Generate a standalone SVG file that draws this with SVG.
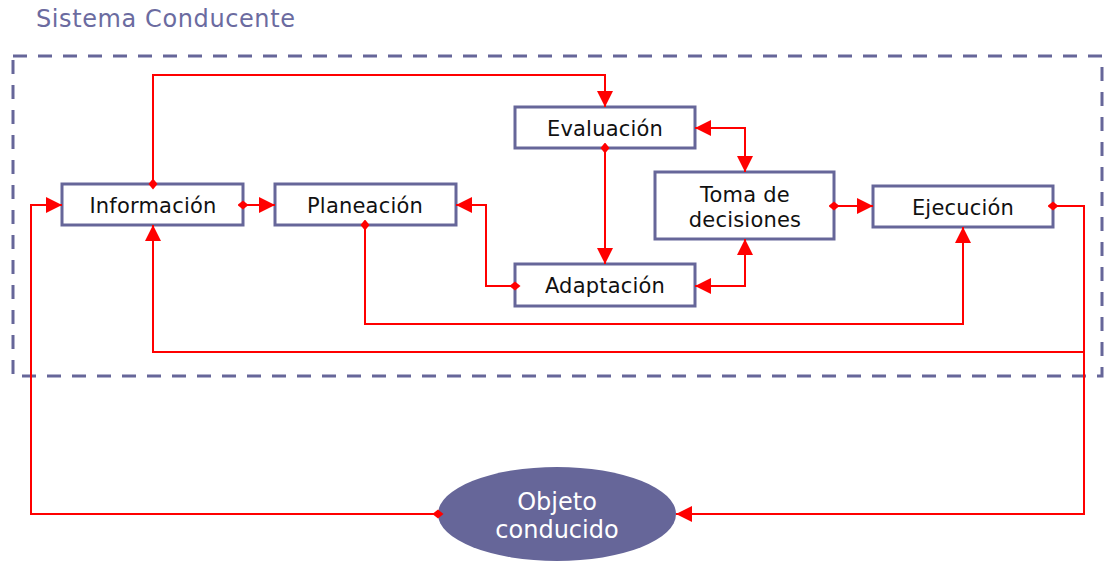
<svg xmlns="http://www.w3.org/2000/svg" width="1107" height="561" viewBox="0 0 1107 561">
<style>
.box{fill:#fff;stroke:#666699;stroke-width:3}
.lbl{font-family:"DejaVu Sans",Verdana,sans-serif;font-size:21px;fill:#111;text-anchor:middle;letter-spacing:0.2px}
.conn path{fill:none;stroke:#ff0000;stroke-width:2}
.a{marker-end:url(#arrow)}
.d{marker-start:url(#dia)}
.b{marker-start:url(#arrowS)}
</style>
<defs>
<marker id="arrow" markerUnits="userSpaceOnUse" markerWidth="16" markerHeight="16" refX="16" refY="8" orient="auto"><path d="M0,0 L16,8 L0,16 z" fill="#ff0000"/></marker>
<marker id="arrowS" markerUnits="userSpaceOnUse" markerWidth="16" markerHeight="16" refX="16" refY="8" orient="auto-start-reverse"><path d="M0,0 L16,8 L0,16 z" fill="#ff0000"/></marker>
<marker id="dia" markerUnits="userSpaceOnUse" markerWidth="11" markerHeight="11" refX="5.5" refY="5.5" orient="auto"><path d="M0,5.5 L5.5,1 L11,5.5 L5.5,10 z" fill="#ff0000"/></marker>
</defs>
<rect width="1107" height="561" fill="#fff"/>
<text x="36" y="27" font-family="'DejaVu Sans',Verdana,sans-serif" font-size="24" letter-spacing="0.6" fill="#6b6ba0">Sistema Conducente</text>
<rect id="frame" x="13" y="56" width="1089" height="320" fill="none" stroke="#666699" stroke-width="3" stroke-dasharray="14 11"/>
<g id="informacion"><rect class="box" x="62" y="184" width="181" height="41"/><text class="lbl" x="153" y="213">Información</text></g>
<g id="planeacion"><rect class="box" x="275" y="184" width="181" height="41"/><text class="lbl" x="365" y="213">Planeación</text></g>
<g id="evaluacion"><rect class="box" x="515" y="107" width="180" height="41"/><text class="lbl" x="605" y="136">Evaluación</text></g>
<g id="adaptacion"><rect class="box" x="515" y="264" width="180" height="42"/><text class="lbl" x="605" y="293">Adaptación</text></g>
<g id="toma"><rect class="box" x="655" y="172" width="179" height="67"/><text class="lbl" x="745" y="202">Toma de</text><text class="lbl" x="745" y="227">decisiones</text></g>
<g id="ejecucion"><rect class="box" x="873" y="186" width="180" height="41"/><text class="lbl" x="963" y="215">Ejecución</text></g>
<g id="objeto"><ellipse cx="557" cy="514" rx="119" ry="47" fill="#666699"/><text x="557" y="510" font-family="'DejaVu Sans',Verdana,sans-serif" font-size="24" fill="#fff" text-anchor="middle">Objeto</text><text x="557" y="538" font-family="'DejaVu Sans',Verdana,sans-serif" font-size="24" fill="#fff" text-anchor="middle">conducido</text></g>
<g id="connectors" class="conn">
<path class="d a" d="M153,184 V75 H605 V107"/>
<path class="d a" d="M243,205 H275"/>
<path class="d a" d="M605,148 V264"/>
<path class="b a" d="M695,128 H745 V172"/>
<path class="b a" d="M695,286 H745 V239"/>
<path class="d a" d="M515,286 H486 V205 H456"/>
<path class="d a" d="M365,225 V324 H963 V227"/>
<path class="d a" d="M834,206 H873"/>
<path class="d a" d="M1053,206 H1084 V514 H676"/>
<path class="a" d="M1084,352 H153 V225"/>
<path class="d a" d="M438,514 H31 V205 H62"/>
</g>
</svg>
